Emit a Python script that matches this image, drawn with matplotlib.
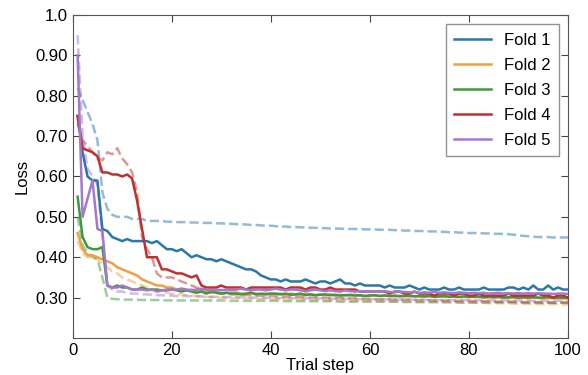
import matplotlib
matplotlib.use("Agg")
import matplotlib.pyplot as plt

plt.rcParams['font.family'] = ['Liberation Sans', 'DejaVu Sans']

steps = list(range(1, 101))

fold1 = [0.75, 0.66, 0.60, 0.59, 0.59, 0.47, 0.465, 0.45, 0.445, 0.44,
         0.445, 0.44, 0.44, 0.44, 0.44, 0.435, 0.44, 0.43, 0.42, 0.42,
         0.415, 0.42, 0.41, 0.40, 0.405, 0.40, 0.395, 0.395, 0.39, 0.395,
         0.39, 0.385, 0.38, 0.375, 0.37, 0.37, 0.365, 0.355, 0.35, 0.345,
         0.345, 0.34, 0.345, 0.34, 0.34, 0.34, 0.345, 0.34, 0.335, 0.34,
         0.34, 0.335, 0.34, 0.345, 0.335, 0.335, 0.33, 0.335, 0.33, 0.33,
         0.33, 0.33, 0.325, 0.33, 0.325, 0.325, 0.325, 0.33, 0.325, 0.32,
         0.325, 0.32, 0.32, 0.32, 0.325, 0.32, 0.32, 0.325, 0.32, 0.32,
         0.32, 0.32, 0.325, 0.32, 0.32, 0.32, 0.32, 0.325, 0.325, 0.32,
         0.325, 0.32, 0.33, 0.32, 0.32, 0.33, 0.32, 0.325, 0.32, 0.32]
fold1_dash = [0.82, 0.79, 0.76, 0.73, 0.69, 0.56, 0.52, 0.505, 0.50, 0.50,
              0.50, 0.495, 0.495, 0.495, 0.49, 0.49, 0.49, 0.49, 0.488, 0.488,
              0.487, 0.487, 0.487, 0.486, 0.486, 0.485, 0.485, 0.485, 0.484, 0.484,
              0.483, 0.483, 0.482, 0.482, 0.481, 0.48, 0.48, 0.479, 0.478, 0.478,
              0.477, 0.476, 0.476, 0.475, 0.475, 0.474, 0.474, 0.473, 0.473, 0.472,
              0.472, 0.471, 0.471, 0.471, 0.47, 0.47, 0.47, 0.47, 0.469, 0.469,
              0.469, 0.468, 0.468, 0.468, 0.467, 0.467, 0.466, 0.466, 0.465, 0.465,
              0.465, 0.464, 0.464, 0.463, 0.463, 0.462, 0.462, 0.461, 0.461, 0.46,
              0.46, 0.46, 0.459, 0.459, 0.458, 0.458, 0.458, 0.457, 0.456, 0.454,
              0.453, 0.452, 0.451, 0.45, 0.45, 0.45, 0.449, 0.449, 0.449, 0.449]

fold2 = [0.46, 0.42, 0.405, 0.405, 0.40, 0.395, 0.39, 0.385, 0.375, 0.37,
         0.365, 0.36, 0.355, 0.345, 0.34, 0.335, 0.33, 0.33, 0.325, 0.325,
         0.32, 0.322, 0.318, 0.32, 0.315, 0.318, 0.315, 0.312, 0.315, 0.31,
         0.312, 0.31, 0.313, 0.31, 0.308, 0.312, 0.31, 0.308, 0.31, 0.31,
         0.308, 0.31, 0.307, 0.31, 0.308, 0.306, 0.31, 0.308, 0.306, 0.308,
         0.306, 0.308, 0.305, 0.307, 0.306, 0.305, 0.307, 0.305, 0.304, 0.306,
         0.305, 0.304, 0.306, 0.304, 0.303, 0.305, 0.304, 0.303, 0.304, 0.303,
         0.303, 0.304, 0.302, 0.303, 0.302, 0.303, 0.302, 0.301, 0.302, 0.301,
         0.302, 0.301, 0.30, 0.301, 0.30, 0.301, 0.30, 0.299, 0.30, 0.299,
         0.30, 0.299, 0.30, 0.299, 0.298, 0.299, 0.298, 0.299, 0.298, 0.298]
fold2_dash = [0.44, 0.41, 0.40, 0.40, 0.395, 0.385, 0.375, 0.365, 0.36, 0.35,
              0.345, 0.34, 0.335, 0.33, 0.325, 0.32, 0.318, 0.315, 0.312, 0.31,
              0.309, 0.308, 0.306, 0.305, 0.304, 0.303, 0.302, 0.301, 0.30, 0.30,
              0.30, 0.299, 0.299, 0.298, 0.298, 0.298, 0.297, 0.297, 0.297, 0.296,
              0.296, 0.296, 0.296, 0.295, 0.295, 0.295, 0.295, 0.294, 0.294, 0.294,
              0.294, 0.293, 0.293, 0.293, 0.293, 0.292, 0.292, 0.292, 0.292, 0.291,
              0.291, 0.291, 0.291, 0.29, 0.29, 0.29, 0.29, 0.29, 0.289, 0.289,
              0.289, 0.289, 0.289, 0.288, 0.288, 0.288, 0.288, 0.288, 0.287, 0.287,
              0.287, 0.287, 0.287, 0.286, 0.286, 0.286, 0.286, 0.286, 0.285, 0.285,
              0.285, 0.285, 0.285, 0.284, 0.284, 0.284, 0.284, 0.284, 0.283, 0.283]

fold3 = [0.55, 0.45, 0.425, 0.42, 0.42, 0.425, 0.33, 0.325, 0.33, 0.325,
         0.325, 0.32, 0.32, 0.325, 0.32, 0.32, 0.32, 0.318, 0.318, 0.32,
         0.318, 0.315, 0.318, 0.315, 0.312, 0.315, 0.31, 0.315, 0.312, 0.31,
         0.312, 0.31, 0.31, 0.308, 0.31, 0.312, 0.308, 0.31, 0.308, 0.31,
         0.31, 0.308, 0.31, 0.307, 0.308, 0.31, 0.306, 0.308, 0.306, 0.307,
         0.308, 0.306, 0.307, 0.305, 0.306, 0.307, 0.305, 0.306, 0.304, 0.305,
         0.306, 0.304, 0.305, 0.304, 0.305, 0.303, 0.304, 0.305, 0.303, 0.304,
         0.303, 0.304, 0.302, 0.303, 0.304, 0.302, 0.303, 0.302, 0.303, 0.302,
         0.302, 0.303, 0.301, 0.302, 0.301, 0.302, 0.30, 0.301, 0.302, 0.30,
         0.301, 0.30, 0.301, 0.30, 0.30, 0.301, 0.30, 0.299, 0.30, 0.30]
fold3_dash = [0.50, 0.43, 0.41, 0.40, 0.395, 0.35, 0.30, 0.297, 0.296, 0.295,
              0.295, 0.295, 0.295, 0.294, 0.294, 0.294, 0.294, 0.294, 0.293, 0.293,
              0.293, 0.293, 0.293, 0.293, 0.293, 0.293, 0.293, 0.293, 0.293, 0.293,
              0.293, 0.292, 0.292, 0.292, 0.292, 0.292, 0.292, 0.292, 0.292, 0.292,
              0.292, 0.292, 0.291, 0.291, 0.291, 0.291, 0.291, 0.291, 0.291, 0.291,
              0.291, 0.291, 0.291, 0.29, 0.29, 0.29, 0.29, 0.29, 0.29, 0.29,
              0.29, 0.29, 0.29, 0.29, 0.29, 0.29, 0.289, 0.289, 0.289, 0.289,
              0.289, 0.289, 0.289, 0.289, 0.289, 0.289, 0.289, 0.288, 0.288, 0.288,
              0.288, 0.288, 0.288, 0.288, 0.288, 0.288, 0.288, 0.288, 0.288, 0.288,
              0.287, 0.287, 0.287, 0.287, 0.287, 0.287, 0.287, 0.287, 0.287, 0.287]

fold4 = [0.75, 0.67, 0.665, 0.66, 0.65, 0.61, 0.61, 0.605, 0.605, 0.60,
         0.605, 0.595, 0.54, 0.47, 0.40, 0.40, 0.40, 0.37, 0.37, 0.365,
         0.36, 0.36, 0.355, 0.35, 0.355, 0.33, 0.325, 0.325, 0.325, 0.33,
         0.325, 0.325, 0.325, 0.325, 0.32, 0.325, 0.325, 0.325, 0.325, 0.325,
         0.325, 0.325, 0.32, 0.325, 0.325, 0.325, 0.32, 0.325, 0.325, 0.32,
         0.32, 0.325, 0.32, 0.32, 0.32, 0.32, 0.32, 0.315, 0.315, 0.315,
         0.315, 0.315, 0.315, 0.31, 0.315, 0.315, 0.31, 0.31, 0.315, 0.31,
         0.31, 0.31, 0.305, 0.31, 0.31, 0.31, 0.305, 0.31, 0.31, 0.305,
         0.305, 0.31, 0.305, 0.305, 0.305, 0.305, 0.305, 0.31, 0.305, 0.305,
         0.305, 0.305, 0.305, 0.31, 0.305, 0.305, 0.30, 0.305, 0.305, 0.30]
fold4_dash = [0.73, 0.69, 0.675, 0.66, 0.645, 0.64, 0.66, 0.655, 0.67, 0.645,
              0.63, 0.61, 0.56, 0.45, 0.42, 0.40, 0.36, 0.35, 0.35, 0.35,
              0.345, 0.34, 0.335, 0.33, 0.325, 0.32, 0.318, 0.315, 0.312, 0.31,
              0.31, 0.308, 0.308, 0.307, 0.306, 0.306, 0.305, 0.305, 0.304, 0.304,
              0.303, 0.303, 0.302, 0.302, 0.302, 0.301, 0.301, 0.30, 0.30, 0.30,
              0.30, 0.299, 0.299, 0.299, 0.298, 0.298, 0.298, 0.297, 0.297, 0.297,
              0.296, 0.296, 0.296, 0.296, 0.295, 0.295, 0.295, 0.295, 0.294, 0.294,
              0.294, 0.294, 0.293, 0.293, 0.293, 0.293, 0.292, 0.292, 0.292, 0.292,
              0.291, 0.291, 0.291, 0.291, 0.29, 0.29, 0.29, 0.29, 0.29, 0.289,
              0.289, 0.289, 0.289, 0.289, 0.288, 0.288, 0.288, 0.288, 0.288, 0.288]

fold5 = [0.90, 0.50, 0.545, 0.59, 0.47, 0.465, 0.33, 0.325, 0.325, 0.33,
         0.325, 0.32, 0.32, 0.32, 0.318, 0.32, 0.315, 0.318, 0.32, 0.32,
         0.32, 0.322, 0.32, 0.318, 0.32, 0.322, 0.32, 0.318, 0.32, 0.318,
         0.32, 0.318, 0.32, 0.322, 0.32, 0.318, 0.32, 0.32, 0.318, 0.32,
         0.322, 0.32, 0.318, 0.32, 0.32, 0.318, 0.316, 0.318, 0.32, 0.318,
         0.316, 0.318, 0.316, 0.315, 0.318, 0.316, 0.315, 0.316, 0.315, 0.314,
         0.315, 0.314, 0.316, 0.314, 0.313, 0.315, 0.314, 0.313, 0.314, 0.312,
         0.313, 0.312, 0.314, 0.312, 0.313, 0.312, 0.311, 0.313, 0.312, 0.311,
         0.312, 0.311, 0.312, 0.31, 0.311, 0.312, 0.31, 0.311, 0.31, 0.311,
         0.31, 0.311, 0.31, 0.311, 0.31, 0.31, 0.309, 0.31, 0.31, 0.309]
fold5_dash = [0.95, 0.70, 0.62, 0.60, 0.58, 0.45, 0.33, 0.32, 0.315, 0.315,
              0.312, 0.31, 0.31, 0.308, 0.308, 0.307, 0.306, 0.306, 0.305, 0.305,
              0.304, 0.304, 0.304, 0.303, 0.303, 0.303, 0.302, 0.302, 0.302, 0.302,
              0.301, 0.301, 0.301, 0.301, 0.30, 0.30, 0.30, 0.30, 0.30, 0.299,
              0.299, 0.299, 0.299, 0.299, 0.298, 0.298, 0.298, 0.298, 0.298, 0.298,
              0.297, 0.297, 0.297, 0.297, 0.297, 0.297, 0.296, 0.296, 0.296, 0.296,
              0.296, 0.296, 0.296, 0.295, 0.295, 0.295, 0.295, 0.295, 0.295, 0.295,
              0.295, 0.294, 0.294, 0.294, 0.294, 0.294, 0.294, 0.294, 0.294, 0.294,
              0.294, 0.293, 0.293, 0.293, 0.293, 0.293, 0.293, 0.293, 0.293, 0.293,
              0.293, 0.293, 0.292, 0.292, 0.292, 0.292, 0.292, 0.292, 0.292, 0.292]

labels = ['Fold 1', 'Fold 2', 'Fold 3', 'Fold 4', 'Fold 5']
colors = ['#2a78a8', '#f0a040', '#3d9a3d', '#c0302e', '#a577cf']
solid = [fold1, fold2, fold3, fold4, fold5]
dashed = [fold1_dash, fold2_dash, fold3_dash, fold4_dash, fold5_dash]

yticks = [0.3, 0.4, 0.5, 0.6, 0.7, 0.8, 0.9, 1.0]
ytick_labels = ['0.30', '0.40', '0.50', '0.60', '0.70', '0.80', '0.90', '1.0']
xticks = [0, 20, 40, 60, 80, 100]

fig = plt.figure(figsize=(5.88, 3.75), dpi=100)
ax = fig.add_axes([0.1236, 0.0987, 0.8424, 0.8613])

# dashed (light) curves first, solid on top
for vals, c in zip(dashed, colors):
    ax.plot(steps, vals, '--', color=c, alpha=0.5, lw=1.8)
for vals, c, lab in zip(solid, colors, labels):
    ax.plot(steps, vals, '-', color=c, lw=1.8, label=lab)

ax.set_xlim(0, 100)
ax.set_ylim(0.2, 1.0)
ax.set_xticks(xticks)
ax.set_yticks(yticks)
ax.set_yticklabels(ytick_labels)
ax.tick_params(direction='in', top=True, right=True, length=5, labelsize=12,
               color='#444444')
for s in ax.spines.values():
    s.set_color('#555555')

ax.set_xlabel('Trial step', fontsize=12, labelpad=0)
ax.set_ylabel('Loss', fontsize=12)

leg = ax.legend(loc='upper right', fontsize=12, fancybox=False,
                handlelength=2.2, borderaxespad=0.55, labelspacing=0.6,
                borderpad=0.5)
leg.get_frame().set_edgecolor('#777777')

fig.savefig('out.png', dpi=100)
